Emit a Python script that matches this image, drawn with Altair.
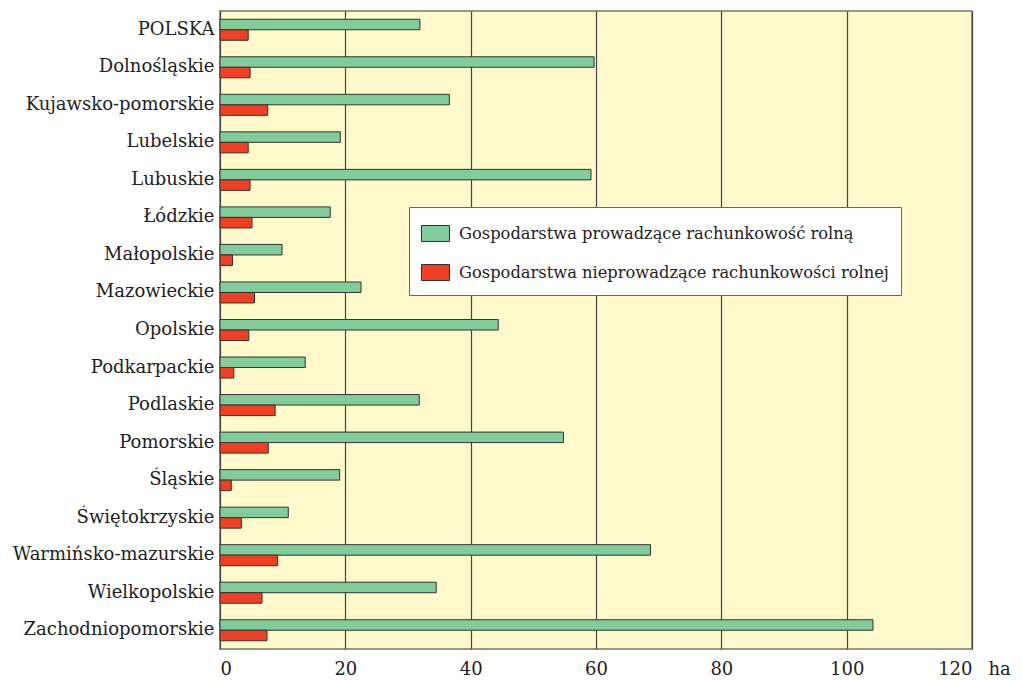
import altair as alt
import pandas as pd

regions = ["POLSKA", "Dolnośląskie", "Kujawsko-pomorskie", "Lubelskie", "Lubuskie",
           "Łódzkie", "Małopolskie", "Mazowieckie", "Opolskie", "Podkarpackie",
           "Podlaskie", "Pomorskie", "Śląskie", "Świętokrzyskie",
           "Warmińsko-mazurskie", "Wielkopolskie", "Zachodniopomorskie"]
with_acc = [31.9, 59.7, 36.6, 19.2, 59.2, 17.6, 9.9, 22.5, 44.4, 13.6,
            31.8, 54.8, 19.1, 10.9, 68.7, 34.5, 104.2]
without_acc = [4.5, 4.8, 7.6, 4.5, 4.8, 5.1, 2.0, 5.5, 4.6, 2.2,
               8.8, 7.7, 1.8, 3.4, 9.2, 6.7, 7.5]
series = ["Gospodarstwa prowadzące rachunkowość rolną",
          "Gospodarstwa nieprowadzące rachunkowości rolnej"]
colors = ["#80cc9a", "#f03f23"]
x_ticks = [0, 20, 40, 60, 80, 100, 120]

rows = []
for r, a, b in zip(regions, with_acc, without_acc):
    rows.append({"region": r, "series": series[0], "value": a})
    rows.append({"region": r, "series": series[1], "value": b})
df = pd.DataFrame(rows)

font = "DejaVu Serif"
tcol = "#222222"

chart = alt.Chart(df).mark_bar(stroke="#333333", strokeWidth=1, opacity=1).encode(
    y=alt.Y("region:N", sort=regions, title=None,
            scale=alt.Scale(paddingInner=0.44, paddingOuter=0.22),
            axis=alt.Axis(labelFont=font, labelFontSize=18, labelColor=tcol,
                          ticks=False, domain=False, labelPadding=6,
                          labelLimit=400)),
    yOffset=alt.YOffset("series:N", sort=series, scale=alt.Scale(paddingInner=0, paddingOuter=0)),
    x=alt.X("value:Q", title="ha",
            scale=alt.Scale(domain=[0, 120], nice=False),
            axis=alt.Axis(values=x_ticks, labelFont=font, labelFontSize=18,
                          labelColor=tcol, ticks=False, domain=False,
                          labelPadding=11, grid=True, gridColor="#444444",
                          gridWidth=1.2, titleFont=font, titleFontSize=18,
                          titleFontWeight="normal", titleColor=tcol,
                          titleX=768, titleY=11, titleAlign="left",
                          titleBaseline="top", titleAngle=0)),
    color=alt.Color("series:N", sort=series,
                    scale=alt.Scale(domain=series, range=colors),
                    legend=alt.Legend(title=None, orient="none", legendX=189, legendY=196,
                                      labelFont=font, labelFontSize=16.3, labelColor=tcol,
                                      symbolType="M-1,-0.571H1V0.571H-1Z",
                                      symbolSize=784, symbolStrokeColor="#333333",
                                      symbolStrokeWidth=1, symbolOpacity=1,
                                      labelOffset=9, rowPadding=14,
                                      padding=12, fillColor="white",
                                      strokeColor="#666666", labelLimit=600)),
).properties(
    width=752, height=638,
    autosize=alt.AutoSizeParams(type="none"),
    padding={"left": 212, "top": 3, "right": 42, "bottom": 31},
).configure_view(
    fill="#fff9cc", stroke="#777766", strokeWidth=1.5
)

chart.save("out.html", embed_options={"renderer": "svg", "actions": False})
